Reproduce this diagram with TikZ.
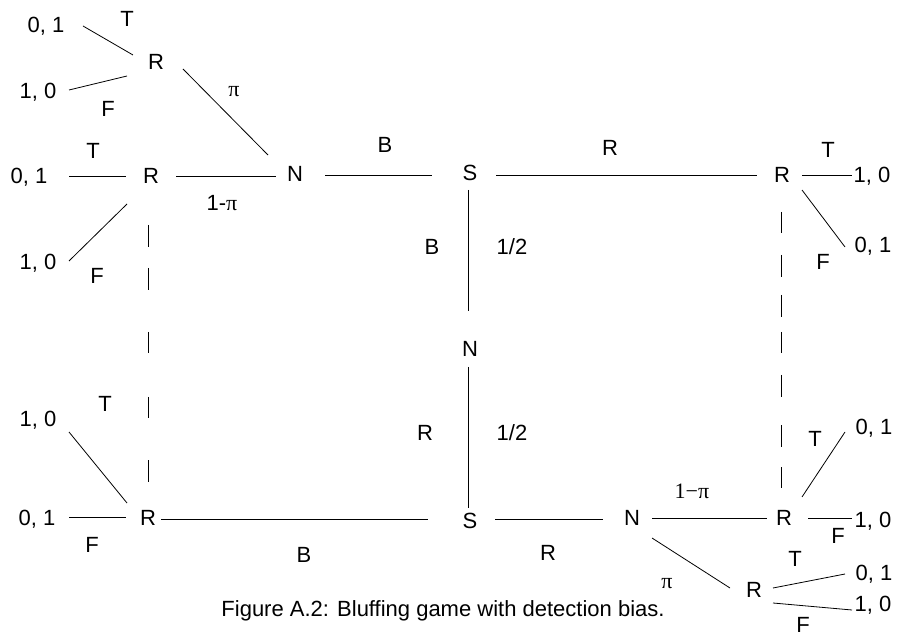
\documentclass[tikz,border=0pt]{standalone}
\usepackage{fontspec}
\setmainfont{Liberation Sans}
\newfontfamily\serifpi{Liberation Serif}
\begin{document}
\begin{tikzpicture}[x=1pt,y=-1pt,
  lab/.style={inner sep=0pt,outer sep=0pt,text height=15.1pt,text depth=0pt,font=\fontsize{22}{26}\selectfont},
  edge/.style={line width=0.8pt,black},
  leftdash/.style={edge,dash pattern=on 22pt off 21pt on 22pt off 42pt on 21pt off 44pt on 21pt off 42pt on 22pt off 60pt},
  rightdash/.style={edge,dash pattern=on 21pt off 22pt on 22pt off 18pt on 22pt off 15pt on 21pt off 22pt on 22pt off 28pt on 22pt off 20pt on 21pt off 60pt}]
\useasboundingbox (0,0) rectangle (906,639);
% top-left cluster
\node[lab] (p1) at (46,25) {0, 1};
\node[lab] (t1) at (127,19) {T};
\node[lab] (r1) at (156,62) {R};
\node[lab] (p2) at (38,91) {1, 0};
\node[lab] (f1) at (108,109) {F};
\node[lab,anchor=base] (pi1) at (234,97) {\serifpi π};
% middle-left
\node[lab] (t2) at (93,151) {T};
\node[lab] (p3) at (29,176) {0, 1};
\node[lab] (r2) at (151,176) {R};
\node[lab] (n1) at (295,174) {N};
\node[lab] (om1) at (222,203) {1-{\serifpi π}};
\node[lab] (p4) at (38,262) {1, 0};
\node[lab] (f2) at (97,276) {F};
% top middle / right
\node[lab] (b1) at (385,145) {B};
\node[lab] (s1) at (470,173) {S};
\node[lab] (rl1) at (610,148) {R};
\node[lab] (r6) at (782,175) {R};
\node[lab] (t6) at (828,150) {T};
\node[lab] (p6) at (872,175) {1, 0};
\node[lab] (p7) at (873,245) {0, 1};
\node[lab] (f6) at (823,262) {F};
% centre column
\node[lab] (bl2) at (432,247) {B};
\node[lab] (h1) at (512,247) {1/2};
\node[lab] (n2) at (470,349) {N};
\node[lab] (rl2) at (425,433) {R};
\node[lab] (h2) at (512,433) {1/2};
\node[lab] (s2) at (470,521) {S};
% bottom-left
\node[lab] (r3) at (148,518) {R};
\node[lab] (p8) at (38,419) {1, 0};
\node[lab] (t3) at (105,404) {T};
\node[lab] (p9) at (37,518) {0, 1};
\node[lab] (f3) at (92,545) {F};
\node[lab] (bl3) at (304,555) {B};
\node[lab] (rl3) at (548,553) {R};
% bottom-right
\node[lab] (n3) at (632,518) {N};
\node[lab,anchor=base] (om2) at (692,498) {\serifpi 1−π};
\node[lab] (r4) at (784,518) {R};
\node[lab] (t4) at (815,439) {T};
\node[lab] (p10) at (874,427) {0, 1};
\node[lab] (p11) at (873,520) {1, 0};
\node[lab] (f4) at (838,536) {F};
\node[lab,anchor=base] (pi2) at (667,588) {\serifpi π};
\node[lab] (r5) at (754,590) {R};
\node[lab] (t5) at (795,559) {T};
\node[lab] (p12) at (874,573) {0, 1};
\node[lab] (p13) at (873,604) {1, 0};
\node[lab] (f5) at (803,625) {F};
% caption
\node[lab] (cap) at (443,609) {Figure A.2: Bluffing game with detection bias.};
% connectors
\draw[edge] ([shift={(37,1)}]p1.center) -- ([shift={(-23,-7)}]r1.center);
\draw[edge] ([shift={(31,-1)}]p2.center) -- ([shift={(-29,14)}]r1.center);
\draw[edge] ([shift={(27,7)}]r1.center) -- ([shift={(-27,-19)}]n1.center);
\draw[edge] ([shift={(40,0)}]p3.center) -- ([shift={(-25,0)}]r2.center);
\draw[edge] ([shift={(25,0)}]r2.center) -- ([shift={(-19,2)}]n1.center);
\draw[edge] ([shift={(-24,28)}]r2.center) -- ([shift={(31,-1)}]p4.center);
\draw[leftdash] ([shift={(-3,49)}]r2.center) -- ([shift={(0,-36)}]r3.center);
\draw[edge] ([shift={(30,1)}]n1.center) -- ([shift={(-38,2)}]s1.center);
\draw[edge] ([shift={(26,2)}]s1.center) -- ([shift={(-25,0)}]r6.center);
\draw[edge] ([shift={(20,0)}]r6.center) -- ([shift={(-20,0)}]p6.center);
\draw[edge] ([shift={(20,15)}]r6.center) -- ([shift={(-28,2)}]p7.center);
\draw[rightdash] ([shift={(-1,37)}]r6.center) -- ([shift={(-3,-30)}]r4.center);
\draw[edge] ([shift={(-2,17)}]s1.center) -- ([shift={(-2,-38)}]n2.center);
\draw[edge] ([shift={(-2,18)}]n2.center) -- ([shift={(-2,-13)}]s2.center);
\draw[edge] ([shift={(13,1)}]r3.center) -- ([shift={(-42,-2)}]s2.center);
\draw[edge] ([shift={(31,13)}]p8.center) -- ([shift={(-21,-15)}]r3.center);
\draw[edge] ([shift={(32,-1)}]p9.center) -- ([shift={(-22,-1)}]r3.center);
\draw[edge] ([shift={(25,-2)}]s2.center) -- ([shift={(-29,1)}]n3.center);
\draw[edge] ([shift={(20,0)}]n3.center) -- ([shift={(-17,0)}]r4.center);
\draw[edge] ([shift={(18,-21)}]r4.center) -- ([shift={(-29,5)}]p10.center);
\draw[edge] ([shift={(24,0)}]r4.center) -- ([shift={(-21,-2)}]p11.center);
\draw[edge] ([shift={(20,20)}]n3.center) -- ([shift={(-24,-2)}]r5.center);
\draw[edge] ([shift={(19,-2)}]r5.center) -- ([shift={(-29,1)}]p12.center);
\draw[edge] ([shift={(19,13)}]r5.center) -- ([shift={(-21,6)}]p13.center);
\end{tikzpicture}
\end{document}
